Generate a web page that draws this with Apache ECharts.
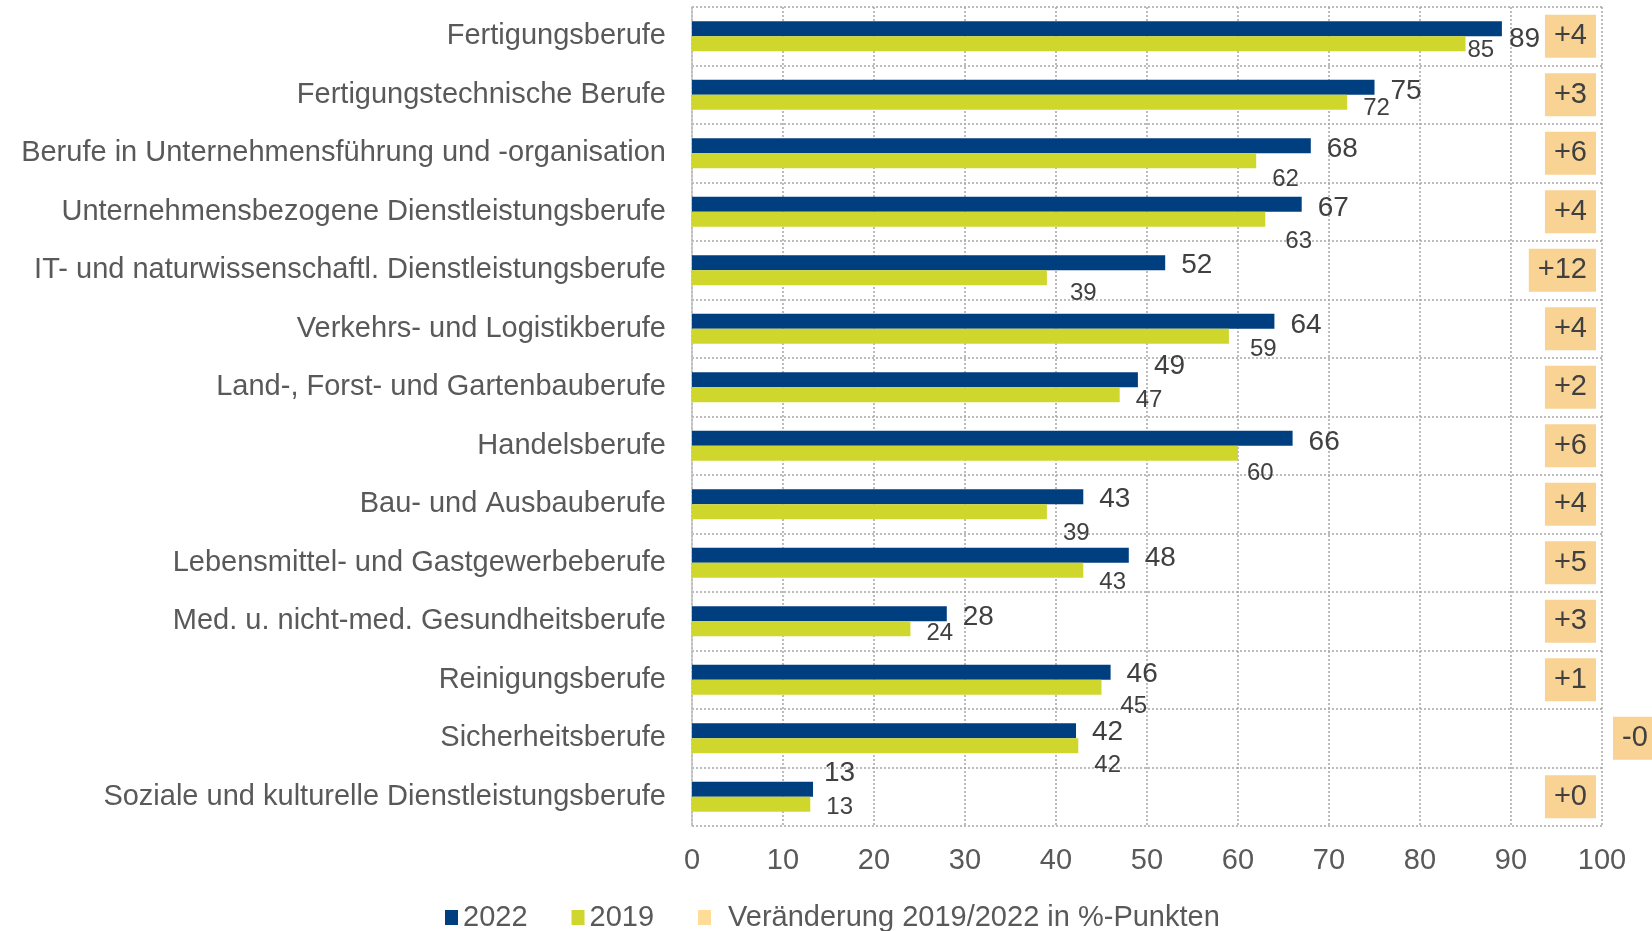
<!DOCTYPE html>
<html>
<head>
<meta charset="utf-8">
<style>
  html, body { margin: 0; padding: 0; background: #fff; }
  #chart { width: 1652px; height: 931px; }
</style>
<script src="https://cdn.jsdelivr.net/npm/echarts@6/dist/echarts.min.js"></script>
</head>
<body>
<div id="chart"></div>
<script>
// Berufsgruppen (von oben nach unten)
const categories = [
  'Fertigungsberufe',
  'Fertigungstechnische Berufe',
  'Berufe in Unternehmensführung und -organisation',
  'Unternehmensbezogene Dienstleistungsberufe',
  'IT- und naturwissenschaftl. Dienstleistungsberufe',
  'Verkehrs- und Logistikberufe',
  'Land-, Forst- und Gartenbauberufe',
  'Handelsberufe',
  'Bau- und Ausbauberufe',
  'Lebensmittel- und Gastgewerbeberufe',
  'Med. u. nicht-med. Gesundheitsberufe',
  'Reinigungsberufe',
  'Sicherheitsberufe',
  'Soziale und kulturelle Dienstleistungsberufe'
]
const values2022 = [89, 75, 68, 67, 52, 64, 49, 66, 43, 48, 28, 46, 42.2, 13.3]
const values2019 = [85, 72, 62, 63, 39, 59, 47, 60, 39, 43, 24, 45, 42.45, 13]
// Veränderung 2019/2022 in %-Punkten
const changes = [4, 3, 6, 4, 12, 4, 2, 6, 4, 5, 3, 1, -0.3, 0.2]
const xTicks = [0, 10, 20, 30, 40, 50, 60, 70, 80, 90, 100]

// Label-Verschiebungen wie im Original von Hand gesetzt (px)
const labelOffsets2022 = [[-9, 11], [0, 4], [0, 4], [0, 4], [0, 3], [0, 4], [0, -13],
  [0, 4], [0, 3], [0, 3], [0, 4], [0, 2], [0, 2], [-5, -16]]
const labelOffsets2019 = [[-14, 7], [0, 6], [0, 19], [4, 22], [7, 16], [5, 13], [0, 6],
  [-7, 20], [0, 22], [0, 12], [0, 5], [3, 19], [0, 20], [0, 3]]

const fmtChange = v => (v < 0 ? '-' : '+') + Math.abs(Math.round(v))

// negative Werte: Label auf der anderen Seite (wie im Original)
const changeLabels = changes.map(v => v < 0
  ? { value: '{sp|}{box|' + fmtChange(v) + '}', textStyle: { align: 'left' } }
  : '{box|' + fmtChange(v) + '}')

const gridLine = { color: '#A6A6A6', width: 1.5, type: [2, 2] }
const font = 'Liberation Sans, Arial, sans-serif'

let myChart = echarts.init(document.getElementById('chart'))
let option = {
  animation: false,
  textStyle: { fontFamily: font },
  grid: { left: 692, right: 50, top: 7, bottom: 105, containLabel: false, outerBoundsMode: 'none' },
  legend: {
    data: ['2022', '2019', {
      name: 'Veränderung 2019/2022 in %-Punkten',
      textStyle: { padding: [0, 0, 0, 12] }
    }],
    left: 445,
    top: 903,
    padding: 0,
    icon: 'rect',
    itemWidth: 13,
    itemHeight: 15,
    itemGap: 44,
    textStyle: { fontSize: 29, color: '#595959', fontFamily: font }
  },
  xAxis: {
    type: 'value',
    min: xTicks[0],
    max: xTicks[xTicks.length - 1],
    interval: 10,
    axisLine: { show: false },
    axisTick: { show: false },
    axisLabel: { fontSize: 29, color: '#595959', margin: 20 },
    splitLine: { show: true, lineStyle: gridLine }
  },
  yAxis: [
    {
      type: 'category',
      data: categories,
      inverse: true,
      axisLine: { show: true, lineStyle: { color: '#BFBFBF', width: 1.5 } },
      axisTick: { show: false },
      axisLabel: { fontSize: 29, color: '#595959', margin: 26 },
      splitLine: { show: true, lineStyle: gridLine }
    },
    {
      type: 'category',
      data: changeLabels,
      inverse: true,
      position: 'right',
      axisLine: { show: false },
      axisTick: { show: false },
      splitLine: { show: false },
      axisLabel: {
        inside: true,
        margin: 6,
        rich: {
          box: {
            fontSize: 29,
            color: '#404040',
            backgroundColor: '#F8D394',
            padding: [7, 9, 7, 9]
          },
          sp: { width: 17 }
        }
      }
    }
  ],
  series: [
    {
      name: '2022',
      type: 'bar',
      data: values2022.map((v, i) => ({ value: v, label: { offset: labelOffsets2022[i] } })),
      barWidth: 15,
      barGap: '0%',
      itemStyle: { color: '#003F7F' },
      label: {
        show: true,
        position: 'right',
        distance: 16,
        fontSize: 28,
        color: '#404040',
        formatter: p => Math.round(p.value)
      }
    },
    {
      name: '2019',
      type: 'bar',
      data: values2019.map((v, i) => ({ value: v, label: { offset: labelOffsets2019[i] } })),
      barWidth: 15,
      barGap: '0%',
      itemStyle: { color: '#CFD72C' },
      label: {
        show: true,
        position: 'right',
        distance: 16,
        fontSize: 24,
        color: '#404040',
        formatter: p => Math.round(p.value)
      }
    },
    {
      // nur für die Legende, die Werte stehen an der rechten Achse
      name: 'Veränderung 2019/2022 in %-Punkten',
      type: 'scatter',
      data: [],
      itemStyle: { color: '#FFD57F' }
    }
  ]
}
myChart.setOption(option)
</script>
</body>
</html>
